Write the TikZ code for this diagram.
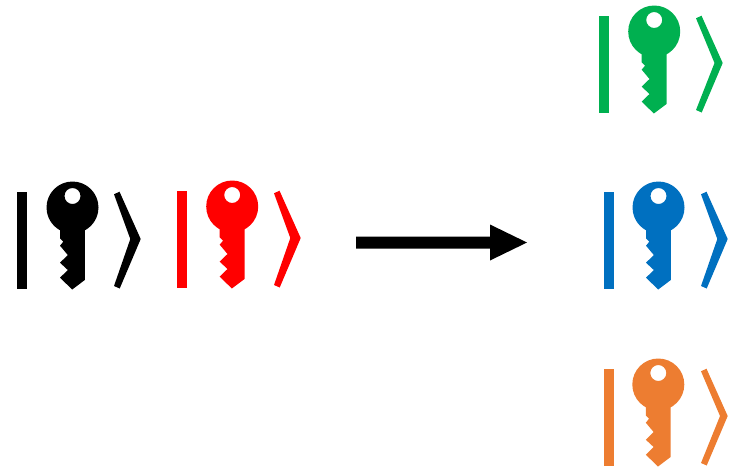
\documentclass[tikz,border=0pt]{standalone}
\usetikzlibrary{calc}
\definecolor{kgreen}{HTML}{00B050}
\definecolor{kblue}{HTML}{0070C0}
\definecolor{korange}{HTML}{ED7D31}
\tikzset{
  ketbar/.pic={
    \fill[pic actions] (0,0) rectangle (9.5,97);
    \fill[pic actions]
      (97,2.3) -- (102.5,-0.3) -- (123.7,47) -- (102.7,96.5) -- (97,94) -- (#1,47) -- cycle;
  },
  ketkey/.pic={
    \fill[pic actions,even odd rule]
      (55.5,15.5) circle[radius=26]
      (55.5,4) circle[radius=8];
    \fill[pic actions]
      (43,30) -- (43,46.3) -- (46.3,49.7) -- (43,53.7) -- (50.8,63) -- (43,70.7) -- (50.8,78) -- (43,85.7)
      -- (55.2,97.5) -- (67.8,88) -- (67.8,30) -- cycle;
  }
}
\begin{document}
\begin{tikzpicture}[x=1pt,y=-1pt]
\useasboundingbox (0,0) rectangle (731,467);
\pic[black] at (17,192) {ketbar={113.3}};
\pic[black] at (17,192) {ketkey};
\pic[red] at (177,191) {ketbar={113.3}};
\pic[red] at (176.7,191) {ketkey};
\pic[kgreen] at (599,16) {ketbar={115.5}};
\pic[kgreen] at (598.7,16) {ketkey};
\pic[kblue] at (604,192) {ketbar={113.3}};
\pic[kblue] at (603,192) {ketkey};
\pic[korange] at (604,369) {ketbar={116}};
\pic[korange] at (602.8,369) {ketkey};
\coordinate (arrowstart) at (356,242.5);
\coordinate (shoulder) at (490,242.5);
\coordinate (arrowtip) at (527,242.5);
\fill ($(arrowstart)+(0,-6)$) -- ($(shoulder)+(0,-6)$) -- ($(shoulder)+(0,-18)$) -- (arrowtip) -- ($(shoulder)+(0,18)$) -- ($(shoulder)+(0,6)$) -- ($(arrowstart)+(0,6)$) -- cycle;
\end{tikzpicture}
\end{document}
